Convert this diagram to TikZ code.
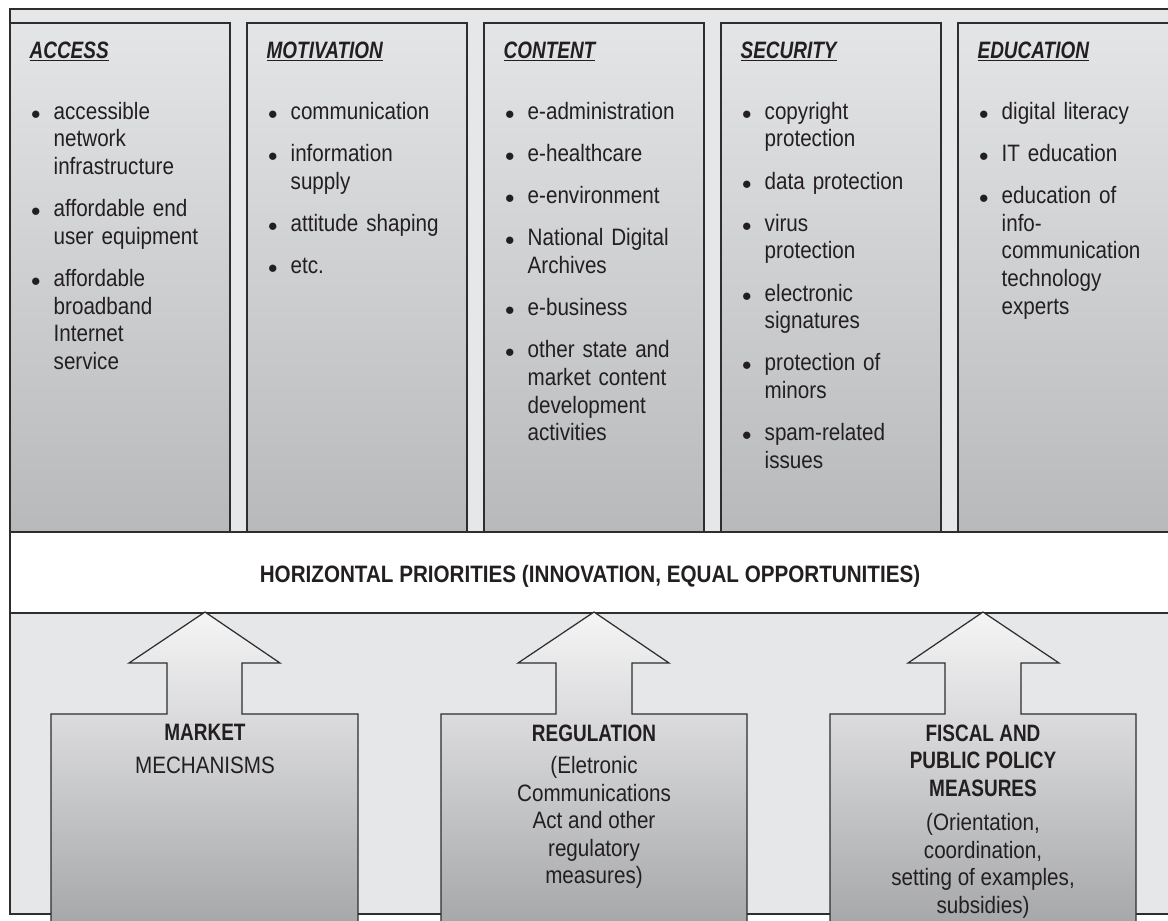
\documentclass[tikz,border=0pt]{standalone}
\usepackage{fontspec}
\setmainfont{Liberation Sans}[FakeStretch=0.87]
\newfontfamily\headfont{Liberation Sans}[FakeStretch=0.8]
\usepackage{enumitem}
\usepackage{tikz}

\definecolor{panel}{HTML}{E6E7E8}
\definecolor{rule}{HTML}{2E2E2E}
\definecolor{ink}{HTML}{231F20}
\definecolor{colTop}{HTML}{E4E5E7}
\definecolor{colBot}{HTML}{B8B9BB}
\definecolor{pilTop}{HTML}{F5F5F6}
\definecolor{pilBot}{HTML}{A5A6A8}

\newcommand{\txt}{\fontsize{13.5}{15.75}\selectfont}
\newcommand{\dotlabel}{\scalebox{0.75}{$\bullet$}}
\newlist{points}{itemize}{1}
\setlist[points]{label=\dotlabel,leftmargin=13.7pt,labelsep=7.5pt,itemsep=8.25pt,parsep=0pt,topsep=0pt,partopsep=0pt}

\begin{document}
\begin{tikzpicture}[x=0.02cm,y=-0.02cm,line width=0.7pt,
  col/.style={draw=rule,top color=colTop,bottom color=colBot},
  pillar/.style={draw=rule,top color=pilTop,bottom color=pilBot},
  head/.style={anchor=base west,inner sep=0pt,text=ink,font=\txt\headfont\bfseries\itshape},
  list/.style={anchor=north west,inner sep=0pt,text=ink,font=\txt,text width=4cm,align=left},
  lbl/.style={anchor=north,inner sep=0pt,text=ink,align=center,font=\fontsize{13.5}{15.6}\selectfont}]
  \useasboundingbox (0,0) rectangle (1168,920);
  \clip (0,0) rectangle (1168,920);
  \fill[white] (0,0) rectangle (1168,920);

  \fill[panel] (10,9) rectangle (1190,914);
  \fill[white] (10,532) rectangle (1190,613);
  \draw[rule] (1190,9) -- (10,9) -- (10,914) -- (1190,914);
  \draw[rule] (10,532) -- (1190,532) (10,613) -- (1190,613);

  \draw[col] (10,23) rectangle (230,532);
  \draw[col] (247,23) rectangle (467,532);
  \draw[col] (484,23) rectangle (704,532);
  \draw[col] (721,23) rectangle (941,532);
  \draw[col] (958,23) rectangle (1178,532);

  \draw[pillar] (51,930) |- (167,714) |- (129,663) -- (205,612) -- (280,663) -| (242,714) -| (358,930);
  \draw[pillar] (441,930) |- (556,714) |- (518,663) -- (594,612) -- (669,663) -| (632,714) -| (747,930);
  \draw[pillar] (830,930) |- (945,714) |- (908,663) -- (983,612) -- (1059,663) -| (1021,714) -| (1136,930);

  \node[head] (accessH) at (29,58) {\underline{ACCESS}};
  \node[head] (motivH) at (266,58) {\underline{MOTIVATION}};
  \node[head] (contentH) at (503,58) {\underline{CONTENT}};
  \node[head] (securH) at (740,58) {\underline{SECURITY}};
  \node[head] (eduH) at (977,58) {\underline{EDUCATION}};

  \node[list] (accessL) at (29,91) {\begin{points}
    \item accessible\\network\\infrastructure
    \item affordable end\\user equipment
    \item affordable\\broadband\\Internet\\service
  \end{points}};
  \node[list] (motivL) at (266,91) {\begin{points}
    \item communication
    \item information\\supply
    \item attitude shaping
    \item etc.
  \end{points}};
  \node[list] (contentL) at (503,91) {\begin{points}
    \item e-administration
    \item e-healthcare
    \item e-environment
    \item National Digital\\Archives
    \item e-business
    \item other state and\\market content\\development\\activities
  \end{points}};
  \node[list] (securL) at (740,91) {\begin{points}
    \item copyright\\protection
    \item data protection
    \item virus\\protection
    \item electronic\\signatures
    \item protection of\\minors
    \item spam-related\\issues
  \end{points}};
  \node[list] (eduL) at (977,91) {\begin{points}
    \item digital literacy
    \item IT education
    \item education of\\info-\\communication\\technology\\experts
  \end{points}};

  \node[anchor=base,inner sep=0pt,text=ink,font=\txt\bfseries] (prio) at (590,582)
    {HORIZONTAL PRIORITIES (INNOVATION, EQUAL OPPORTUNITIES)};

  \node[lbl] (market) at (205,724) {{\headfont\bfseries MARKET}\\[3pt]MECHANISMS};
  \node[lbl] (regul) at (594,724) {{\headfont\bfseries REGULATION}\\[3pt](Eletronic\\Communications\\Act and other\\regulatory\\measures)};
  \node[lbl] (fiscal) at (983,724) {{\headfont\bfseries FISCAL AND}\\{\headfont\bfseries PUBLIC POLICY}\\{\headfont\bfseries MEASURES}\\[4.3pt](Orientation,\\coordination,\\setting of examples,\\subsidies)};
\end{tikzpicture}
\end{document}
